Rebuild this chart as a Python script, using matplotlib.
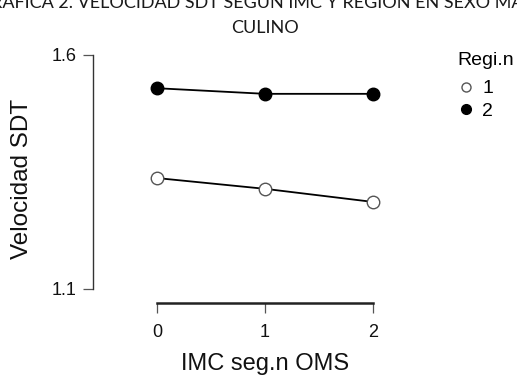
import matplotlib
matplotlib.use("Agg")
import matplotlib.pyplot as plt
from matplotlib.lines import Line2D

# data
imc = [0, 1, 2]
region_1 = [1.337, 1.314, 1.286]
region_2 = [1.529, 1.517, 1.517]
y_ticks = [1.1, 1.6]

W, H = 517, 376
fig = plt.figure(figsize=(W / 100, H / 100), dpi=100)
plt.rcParams['font.family'] = ['Liberation Sans', 'DejaVu Sans']


def px(x0, y0, x1, y1):
    # pixel box (top-left origin) -> figure fraction rect
    return [x0 / W, 1 - y1 / H, (x1 - x0) / W, (y1 - y0) / H]


ax = fig.add_axes(px(93, 55, 400, 303))
ax.set_xlim(-0.593, 2.25)
ax.set_ylim(1.07, 1.6)

ax.plot(imc, region_2, color='black', lw=1.3, marker='o', ms=9,
        mfc='black', mec='black', zorder=3)
ax.plot(imc, region_1, color='black', lw=1.3, marker='o', ms=9,
        mfc='white', mec='#555555', mew=1.0, zorder=3)

for s in ['top', 'right']:
    ax.spines[s].set_visible(False)
ax.spines['left'].set_bounds(1.1, 1.6)
ax.spines['bottom'].set_bounds(0, 2)
ax.spines['left'].set_color('#333333')
ax.spines['bottom'].set_color('#222222')
ax.spines['bottom'].set_linewidth(1.8)
ax.spines['left'].set_linewidth(1.0)

ax.set_xticks(imc)
ax.set_xticklabels([str(v) for v in imc])
ax.set_yticks(y_ticks)
ax.set_yticklabels([str(v) for v in y_ticks])
ax.tick_params(direction='out', length=7, width=0.9, colors='#555555',
               labelcolor='#111111', labelsize=13)
ax.tick_params(axis='x', pad=8)
ax.tick_params(axis='y', pad=5)

ax.set_xlabel('IMC seg.n OMS', fontsize=17, color='#111111')
ax.set_ylabel('Velocidad SDT', fontsize=17.5, color='#111111')
ax.xaxis.set_label_coords((265 - 93) / 307, (303 - 364) / 248)
ax.xaxis.label.set_va('center')
ax.yaxis.set_label_coords((22 - 93) / 307, 0.5)
ax.yaxis.label.set_va('center')

# legend without lines, like the R interaction plot
handles = [Line2D([], [], ls='none', marker='o', ms=6.5, mfc='white', mec='#555555'),
           Line2D([], [], ls='none', marker='o', ms=7, mfc='black', mec='black')]
leg = fig.legend(handles, ['1', '2'], title='Regi.n', loc='upper left',
                 bbox_to_anchor=(448 / W, 1 - 42 / H), frameon=False,
                 fontsize=14, title_fontsize=14, handletextpad=0.45,
                 labelspacing=0.25, borderpad=0, handlelength=0.8)
leg._legend_box.align = 'left'
leg._legend_box.sep = 8

# cut-off caption lines above the plot
fig.text(0.5, 1 - 8 / H, 'GRÁFICA 2. VELOCIDAD SDT SEGÚN IMC Y REGIÓN EN SEXO MAS-',
         ha='center', va='baseline', fontsize=13, family=['Lato', 'DejaVu Sans'],
         color='#1a1a1a')
fig.text(265 / W, 1 - 33 / H, 'CULINO', ha='center', va='baseline', fontsize=13,
         family=['Lato', 'DejaVu Sans'], color='#1a1a1a')

fig.savefig('out.png', dpi=100)
